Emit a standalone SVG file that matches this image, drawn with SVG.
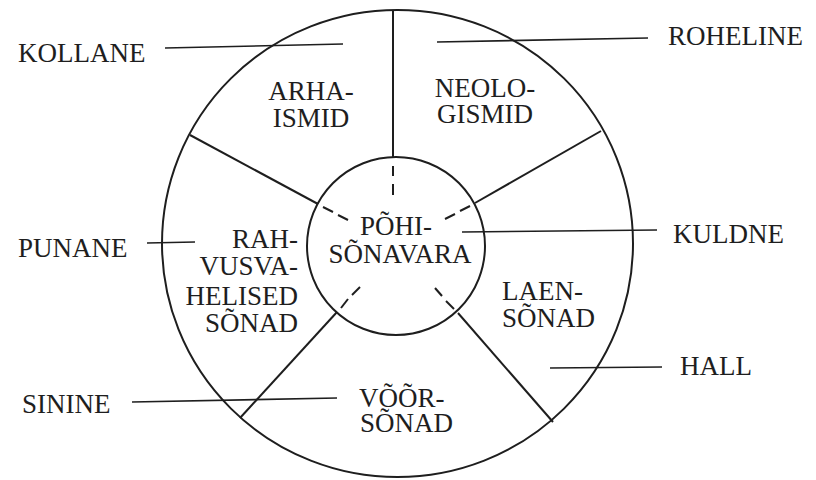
<svg xmlns="http://www.w3.org/2000/svg" width="816" height="480" viewBox="0 0 816 480">
<style>
.ln{stroke:#1e1e1e;stroke-width:2;fill:none;stroke-linecap:butt}
.ld{stroke:#1e1e1e;stroke-width:1.6;fill:none}
.t{font-family:"Liberation Serif","Times New Roman",serif;font-size:27px;fill:#1e1e1e}
.m{text-anchor:middle}
.e{text-anchor:end}
</style>
<rect width="816" height="480" fill="#ffffff"/>
<g id="wheel">
  <ellipse class="ln" cx="397.5" cy="243.5" rx="235.5" ry="233.5"/>
  <circle class="ln" cx="396" cy="246" r="89"/>
  <line class="ln" x1="393" y1="10" x2="393" y2="157"/>
  <line class="ln" x1="190" y1="135" x2="318" y2="204"/>
  <line class="ln" x1="601" y1="131" x2="475" y2="203"/>
  <line class="ln" x1="240" y1="418" x2="337" y2="312"/>
  <line class="ln" x1="553" y1="422" x2="458" y2="313"/>
  <g id="dashes">
    <line class="ln" x1="393" y1="166" x2="393" y2="176"/>
    <line class="ln" x1="393" y1="184" x2="393" y2="195"/>
    <line class="ln" x1="323" y1="207" x2="333" y2="212"/>
    <line class="ln" x1="338" y1="215" x2="348" y2="220"/>
    <line class="ln" x1="470" y1="206" x2="460" y2="211"/>
    <line class="ln" x1="455" y1="214" x2="445" y2="219"/>
    <line class="ln" x1="341" y1="308" x2="348" y2="299"/>
    <line class="ln" x1="352" y1="295" x2="360" y2="287"/>
    <line class="ln" x1="454" y1="309" x2="446" y2="301"/>
    <line class="ln" x1="442" y1="296" x2="435" y2="288"/>
  </g>
</g>
<g id="connectors">
  <line class="ld" x1="165" y1="48" x2="343" y2="44"/>
  <line class="ld" x1="437" y1="42" x2="648" y2="38"/>
  <line class="ld" x1="147" y1="243" x2="195" y2="242"/>
  <line class="ld" x1="462" y1="232" x2="657" y2="230"/>
  <line class="ld" x1="550" y1="368" x2="662" y2="367"/>
  <line class="ld" x1="132" y1="402" x2="337" y2="398"/>
</g>
<g id="arhaismid"><text class="t m" x="311" y="100">ARHA-</text><text class="t m" x="311" y="127">ISMID</text></g>
<g id="neologismid"><text class="t m" x="485" y="97">NEOLO-</text><text class="t m" x="485" y="123">GISMID</text></g>
<g id="pohisonavara"><text class="t m" x="396" y="235">PÕHI-</text><text class="t m" x="400" y="263">SÕNAVARA</text></g>
<g id="rahvusvahelised"><text class="t e" x="298" y="248">RAH-</text><text class="t e" x="298" y="275">VUSVA-</text><text class="t e" x="298" y="305">HELISED</text><text class="t e" x="298" y="332">SÕNAD</text></g>
<g id="laensonad"><text class="t" x="502" y="300">LAEN-</text><text class="t" x="502" y="327">SÕNAD</text></g>
<g id="voorsonad"><text class="t" x="359" y="407">VÕÕR-</text><text class="t" x="360" y="432">SÕNAD</text></g>
<g id="kollane"><text class="t" x="18" y="62">KOLLANE</text></g>
<g id="roheline"><text class="t" x="668" y="45">ROHELINE</text></g>
<g id="punane"><text class="t" x="18" y="257">PUNANE</text></g>
<g id="kuldne"><text class="t" x="673" y="243">KULDNE</text></g>
<g id="hall"><text class="t" x="680" y="375">HALL</text></g>
<g id="sinine"><text class="t" x="22" y="413">SININE</text></g>
</svg>
